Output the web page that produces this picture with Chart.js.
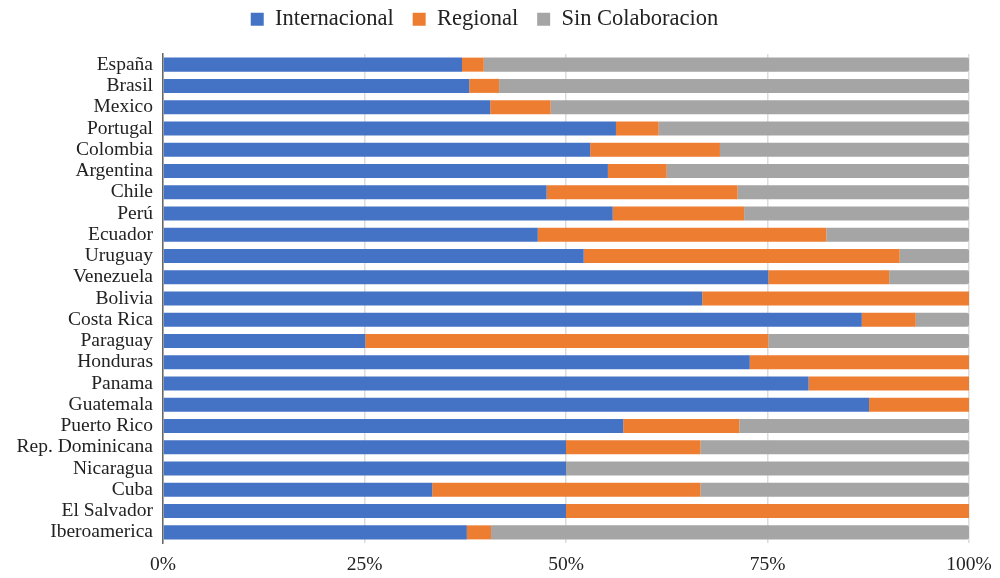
<!DOCTYPE html>
<html>
<head>
<meta charset="utf-8">
<script src="https://cdn.jsdelivr.net/npm/chart.js@4"></script>
<style>
    html, body { margin: 0; padding: 0; background: #fff; }
    #wrap { width: 1000px; height: 578px; }
</style>
</head>
<body>
<div id="wrap"><canvas id="chart-colab"></canvas></div>
<script>
// categorias
var paises = ['España', 'Brasil', 'Mexico', 'Portugal', 'Colombia', 'Argentina', 'Chile', 'Perú',
    'Ecuador', 'Uruguay', 'Venezuela', 'Bolivia', 'Costa Rica', 'Paraguay', 'Honduras', 'Panama',
    'Guatemala', 'Puerto Rico', 'Rep. Dominicana', 'Nicaragua', 'Cuba', 'El Salvador', 'Iberoamerica'];

// valores en %
var internacional = [37.1, 38.0, 40.6, 56.2, 53.0, 55.2, 47.6, 55.8, 46.5, 52.2, 75.1, 66.9,
    86.7, 25.1, 72.8, 80.1, 87.6, 57.1, 50.0, 50.0, 33.4, 50.0, 37.7];
var regional = [2.7, 3.7, 7.5, 5.3, 16.1, 7.3, 23.7, 16.3, 35.8, 39.2, 15.0, 33.1,
    6.7, 50.0, 27.2, 19.9, 12.4, 14.4, 16.7, 0, 33.3, 50.0, 3.0];
var sinColaboracion = [60.2, 58.3, 51.9, 38.5, 30.9, 37.5, 28.7, 27.9, 17.7, 8.6, 9.9, 0,
    6.6, 24.9, 0, 0, 0, 28.5, 33.3, 50.0, 33.3, 0, 59.3];

// ticks eje x
var ticksX = [0, 25, 50, 75, 100];

var fuente = "'Liberation Serif', 'Times New Roman', serif";

// alto fijo de la leyenda y subirla un poco
var leyendaFija = {
    id: 'leyendaFija',
    beforeUpdate: function (chart) {
        var lg = chart.legend;
        if (lg && !lg._parcheado) {
            var fitOrig = lg.fit;
            lg.fit = function () {
                fitOrig.call(this);
                this.height = 54;
            };
            lg._parcheado = true;
        }
    },
    afterLayout: function (chart) {
        if (chart.legend) chart.legend.top = -11;
    }
};

var ctx = document.getElementById('chart-colab').getContext('2d');
var myBarChart = new Chart(ctx, {
    type: 'bar',
    data: {
        labels: paises,
        datasets: [{
            label: 'Internacional',
            backgroundColor: '#4472C4',
            data: internacional
        }, {
            label: 'Regional',
            backgroundColor: '#ED7D31',
            data: regional
        }, {
            label: 'Sin Colaboracion',
            backgroundColor: '#A5A5A5',
            borderRadius: 2,
            data: sinColaboracion
        }]
    },
    plugins: [leyendaFija],
    options: {
        indexAxis: 'y',
        responsive: true,
        maintainAspectRatio: false,
        animation: false,
        datasets: {
            bar: { categoryPercentage: 1, barPercentage: 0.66 }
        },
        layout: { padding: { left: 0, right: 31, top: 0, bottom: 0 } },
        plugins: {
            tooltip: { enabled: false },
            legend: {
                position: 'top',
                labels: {
                    font: { family: fuente, size: 22.5 },
                    color: '#222',
                    boxWidth: 13,
                    boxHeight: 13,
                    padding: 19
                }
            }
        },
        scales: {
            x: {
                stacked: true,
                min: 0,
                max: 100,
                afterBuildTicks: function (scale) {
                    scale.ticks = ticksX.map(function (v) { return { value: v }; });
                },
                afterFit: function (scale) {
                    scale.height = 35;
                    scale.paddingLeft = 0;
                    scale.paddingRight = 0;
                },
                ticks: {
                    font: { family: fuente, size: 19.5 },
                    color: '#222',
                    padding: 10,
                    callback: function (v) { return v + '%'; }
                },
                grid: { color: '#dcdcdc', lineWidth: 1.5, drawTicks: false },
                border: { display: false }
            },
            y: {
                stacked: true,
                afterFit: function (scale) { scale.width = 163; },
                ticks: {
                    font: { family: fuente, size: 19.5 },
                    color: '#222',
                    padding: 2,
                    autoSkip: false
                },
                grid: { display: false },
                border: { display: true, color: '#666', width: 1.5 }
            }
        }
    }
});
</script>
</body>
</html>
